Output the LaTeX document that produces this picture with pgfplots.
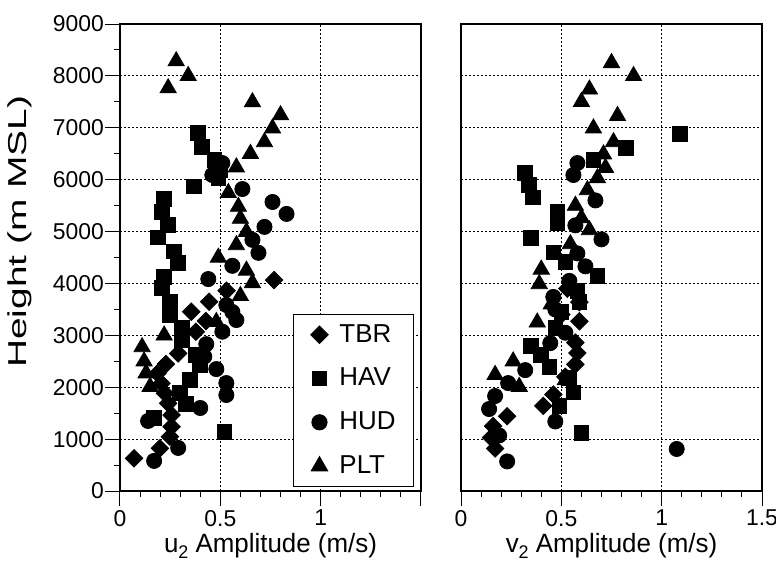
\documentclass[border=0pt]{standalone}
\usepackage{fontspec}
\setmainfont{Liberation Sans}
\usepackage{pgfplots}
\pgfplotsset{compat=1.18}
\pgfplotsset{
  myax/.style={
    scale only axis, width=150.5bp, height=233.5bp,
    xmin=0, xmax=1.5, ymin=0, ymax=9000,
    axis line style={line width=1.1bp},
    tick align=outside,
    major tick length=7.5bp, minor tick length=3bp,
    every tick/.style={black, line width=0.5bp},
    xtick pos=left, ytick pos=left,
    xtick={0,0.5,1,1.5}, minor x tick num=4,
    ytick={0,1000,...,9000}, minor y tick num=1,
    grid=major,
    major grid style={black, line width=0.5bp, dash pattern=on 0.8bp off 1.2bp},
    tick label style={font=\fontsize{11.5}{12}\selectfont},
    yticklabel style={xshift=3bp},
    xticklabel style={yshift=1.5bp},
    label style={font=\fontsize{13}{14}\selectfont},
    xlabel style={at={(axis description cs:0.5,-0.118)}, anchor=center, yscale=1.02},
  },
  trb/.style={only marks, mark=square*, mark options={rotate=45, fill=black}, mark size=3.1pt, black},
  hav/.style={only marks, mark=square*, mark size=3.7pt, black},
  hud/.style={only marks, mark=*, mark size=3.8pt, black},
  plt/.style={only marks, mark=triangle*, mark size=4.7pt, black},
}
\begin{document}
\begin{tikzpicture}[x=1bp,y=1bp]
\useasboundingbox (-60,-35.5) rectangle (328,245.5);
\begin{axis}[myax, at={(0bp,0bp)}, anchor=south west,
  xticklabels={0,0.5,1,{}},
  yticklabels={0,1000,2000,3000,4000,5000,6000,7000,8000,9000},
  ylabel={Height (m MSL)},
  ylabel style={at={(axis description cs:-0.332,0.555)}, anchor=center, xscale=1.5},
  xlabel={u\raisebox{-0.45ex}{\fontsize{9}{10}\selectfont 2} Amplitude (m/s)},
  legend style={at={(axis description cs:0.977,0.0086)}, anchor=south east,
    draw=black, line width=0.5bp, fill=white,
    font=\fontsize{13}{14}\selectfont, row sep=7.5bp,
    inner xsep=7bp, inner ysep=3bp,
    /tikz/every odd column/.style={column sep=2bp}},
  legend image code/.code={\draw[#1] plot coordinates {(6bp,0bp)}; \path[draw=none, fill=none] (0bp,-3bp) rectangle (12bp,3bp);},
  legend cell align=left,
]
\addplot[trb] table {
0.768 4065
0.531 3860
0.444 3648
0.355 3455
0.428 3275
0.378 3070
0.290 2652
0.229 2447
0.187 2267
0.207 2075
0.224 1883
0.240 1690
0.257 1464
0.257 1239
0.249 1046
0.199 823
0.070 630
};
\addlegendentry{TBR}
\addplot[hav] table {
0.39 6900
0.41 6630
0.47 6380
0.50 6185
0.49 6030
0.37 5870
0.22 5625
0.21 5380
0.24 5125
0.19 4890
0.27 4620
0.29 4400
0.22 4130
0.21 3910
0.25 3645
0.25 3390
0.31 3150
0.31 2910
0.38 2620
0.40 2420
0.35 2140
0.30 1885
0.33 1680
0.17 1405
0.52 1143
};
\addlegendentry{HAV}
\addplot[hud] table {
0.51 6320
0.46 6090
0.61 5820
0.76 5570
0.83 5340
0.72 5090
0.66 4840
0.69 4590
0.56 4340
0.44 4085
0.53 3585
0.56 3450
0.58 3295
0.51 3070
0.43 2830
0.42 2590
0.48 2350
0.53 2080
0.53 1850
0.40 1600
0.14 1350
0.29 830
0.17 580
};
\addlegendentry{HUD}
\addplot[plt] table {
0.28 8285
0.34 8000
0.24 7765
0.66 7495
0.80 7245
0.76 6990
0.72 6725
0.65 6500
0.58 6240
0.54 5745
0.59 5480
0.60 5250
0.63 4995
0.58 4740
0.49 4500
0.63 4250
0.66 4010
0.60 3760
0.48 3260
0.22 3000
0.11 2775
0.12 2500
0.13 2270
0.15 2010
};
\addlegendentry{PLT}
\end{axis}
\begin{axis}[myax, at={(170.5bp,0bp)}, anchor=south west,
  xticklabels={0,0.5,1,1.5},
  yticklabels={},
  ytick style={draw=none},
  minor y tick num=0,
  xlabel={v\raisebox{-0.45ex}{\fontsize{9}{10}\selectfont 2} Amplitude (m/s)},
]
\addplot[trb] table {
0.59 3640
0.53 3900
0.50 3400
0.59 3270
0.57 2860
0.58 2660
0.57 2440
0.52 2200
0.46 1860
0.41 1640
0.23 1440
0.16 1250
0.15 1030
0.17 820
};
\addplot[hav] table {
1.09 6880
0.82 6610
0.66 6380
0.32 6130
0.34 5900
0.36 5660
0.48 5390
0.48 5160
0.35 4880
0.46 4600
0.52 4410
0.68 4140
0.58 3850
0.59 3650
0.50 3450
0.47 3150
0.35 2800
0.40 2620
0.44 2390
0.54 2180
0.56 1900
0.49 1640
0.60 1120
};
\addplot[hud] table {
0.58 6320
0.56 6090
0.67 5600
0.57 5120
0.70 4850
0.58 4580
0.62 4330
0.54 4050
0.46 3740
0.47 3500
0.52 3050
0.445 2850
0.32 2330
0.235 2080
0.17 1830
0.14 1580
0.47 1340
0.19 1070
0.23 570
1.075 810
};
\addplot[plt] table {
0.75 8250
0.86 8000
0.64 7740
0.60 7500
0.78 7230
0.66 6990
0.76 6725
0.71 6490
0.72 6230
0.68 6030
0.63 5800
0.57 5500
0.60 5260
0.64 5030
0.545 4760
0.40 4270
0.39 3990
0.45 3600
0.38 3250
0.52 2140
0.26 2500
0.17 2240
0.29 2010
};
\end{axis}
\end{tikzpicture}
\end{document}
